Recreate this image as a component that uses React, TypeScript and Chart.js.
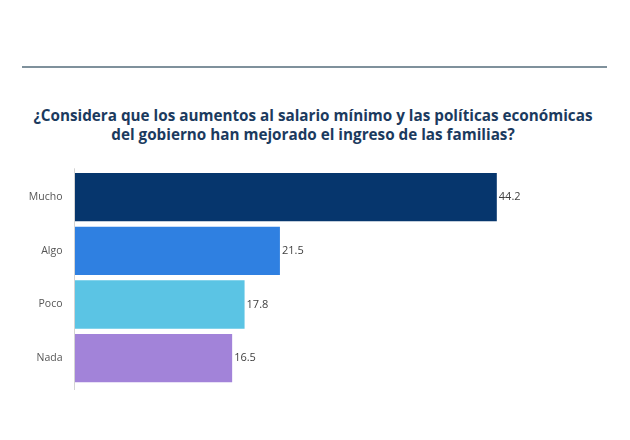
import React, { useEffect, useRef, useState } from "react";
import { Chart, registerables } from "chart.js";

Chart.register(...registerables);

const titleLines = [
  "¿Considera que los aumentos al salario mínimo y las políticas económicas",
  "del gobierno han mejorado el ingreso de las familias?",
];
const categories = ["Mucho", "Algo", "Poco", "Nada"];
const values = [44.2, 21.5, 17.8, 16.5];
const barColors = ["#06366d", "#2f80e1", "#5bc4e4", "#a283d9"];

const TITLE_FONT = "700 15.5px 'Open Sans'";

export default function App() {
  const canvasRef = useRef<HTMLCanvasElement | null>(null);
  const [scaleX, setScaleX] = useState(1);

  useEffect(() => {
    document.body.style.margin = "0";
    const c = document.createElement("canvas").getContext("2d");
    if (c) {
      c.font = TITLE_FONT;
      const w = c.measureText(titleLines[0]).width;
      if (w > 0) setScaleX(559 / w);
    }
  }, []);

  useEffect(() => {
    const canvas = canvasRef.current;
    if (!canvas) return;
    const labelPlugin = {
      id: "valueLabels",
      afterDatasetsDraw(chart: any) {
        const ctx = chart.ctx;
        const meta = chart.getDatasetMeta(0);
        const area = chart.chartArea;
        ctx.save();
        ctx.strokeStyle = "#d4d4d4";
        ctx.lineWidth = 1;
        ctx.beginPath();
        ctx.moveTo(area.left, area.top - 2);
        ctx.lineTo(area.left, area.bottom + 5);
        ctx.stroke();
        ctx.font = "11px 'Open Sans'";
        ctx.fillStyle = "#3f3f3f";
        ctx.textAlign = "left";
        ctx.textBaseline = "middle";
        meta.data.forEach((bar: any, i: number) => {
          ctx.fillText(values[i].toFixed(1), bar.x + 2, bar.y);
        });
        ctx.restore();
      },
    };
    const chart = new Chart(canvas, {
      type: "bar",
      data: {
        labels: categories,
        datasets: [
          {
            data: values,
            backgroundColor: barColors,
            borderWidth: 0,
            barPercentage: 0.9,
            categoryPercentage: 1.0,
          },
        ],
      },
      options: {
        indexAxis: "y",
        responsive: false,
        animation: false,
        devicePixelRatio: 1,
        layout: { padding: { top: 10, bottom: 15, right: 30, left: 0 } },
        plugins: {
          legend: { display: false },
          tooltip: { enabled: false },
          title: { display: false },
        },
        scales: {
          x: { display: false, min: 0, max: 55 },
          y: {
            grid: { display: false },
            border: { display: false },
            ticks: {
              color: "#555555",
              font: { family: "'Open Sans'", size: 10.5 },
              padding: 4,
            },
            afterFit(scale: any) {
              scale.width = 74.5;
            },
          },
        },
      },
      plugins: [labelPlugin],
    });
    return () => chart.destroy();
  }, []);

  return (
    <div
      style={{
        position: "absolute",
        left: 0,
        top: 0,
        width: 630,
        height: 440,
        background: "#ffffff",
        overflow: "hidden",
      }}
    >
      <div
        style={{
          position: "absolute",
          left: 22,
          top: 66,
          width: 585,
          height: 1.5,
          background: "#7f919c",
        }}
      />
      <div
        style={{
          position: "absolute",
          left: 0,
          top: 105.5,
          width: 626,
          textAlign: "center",
          font: TITLE_FONT,
          lineHeight: "19px",
          color: "#1b3a5e",
          whiteSpace: "nowrap",
        }}
      >
        {titleLines.map((t, i) => (
          <div key={i} style={{ transform: `scaleX(${scaleX})`, transformOrigin: "center" }}>
            {t}
          </div>
        ))}
      </div>
      <canvas
        ref={canvasRef}
        width={630}
        height={240}
        style={{ position: "absolute", left: 0, top: 160, width: 630, height: 240 }}
      />
    </div>
  );
}
